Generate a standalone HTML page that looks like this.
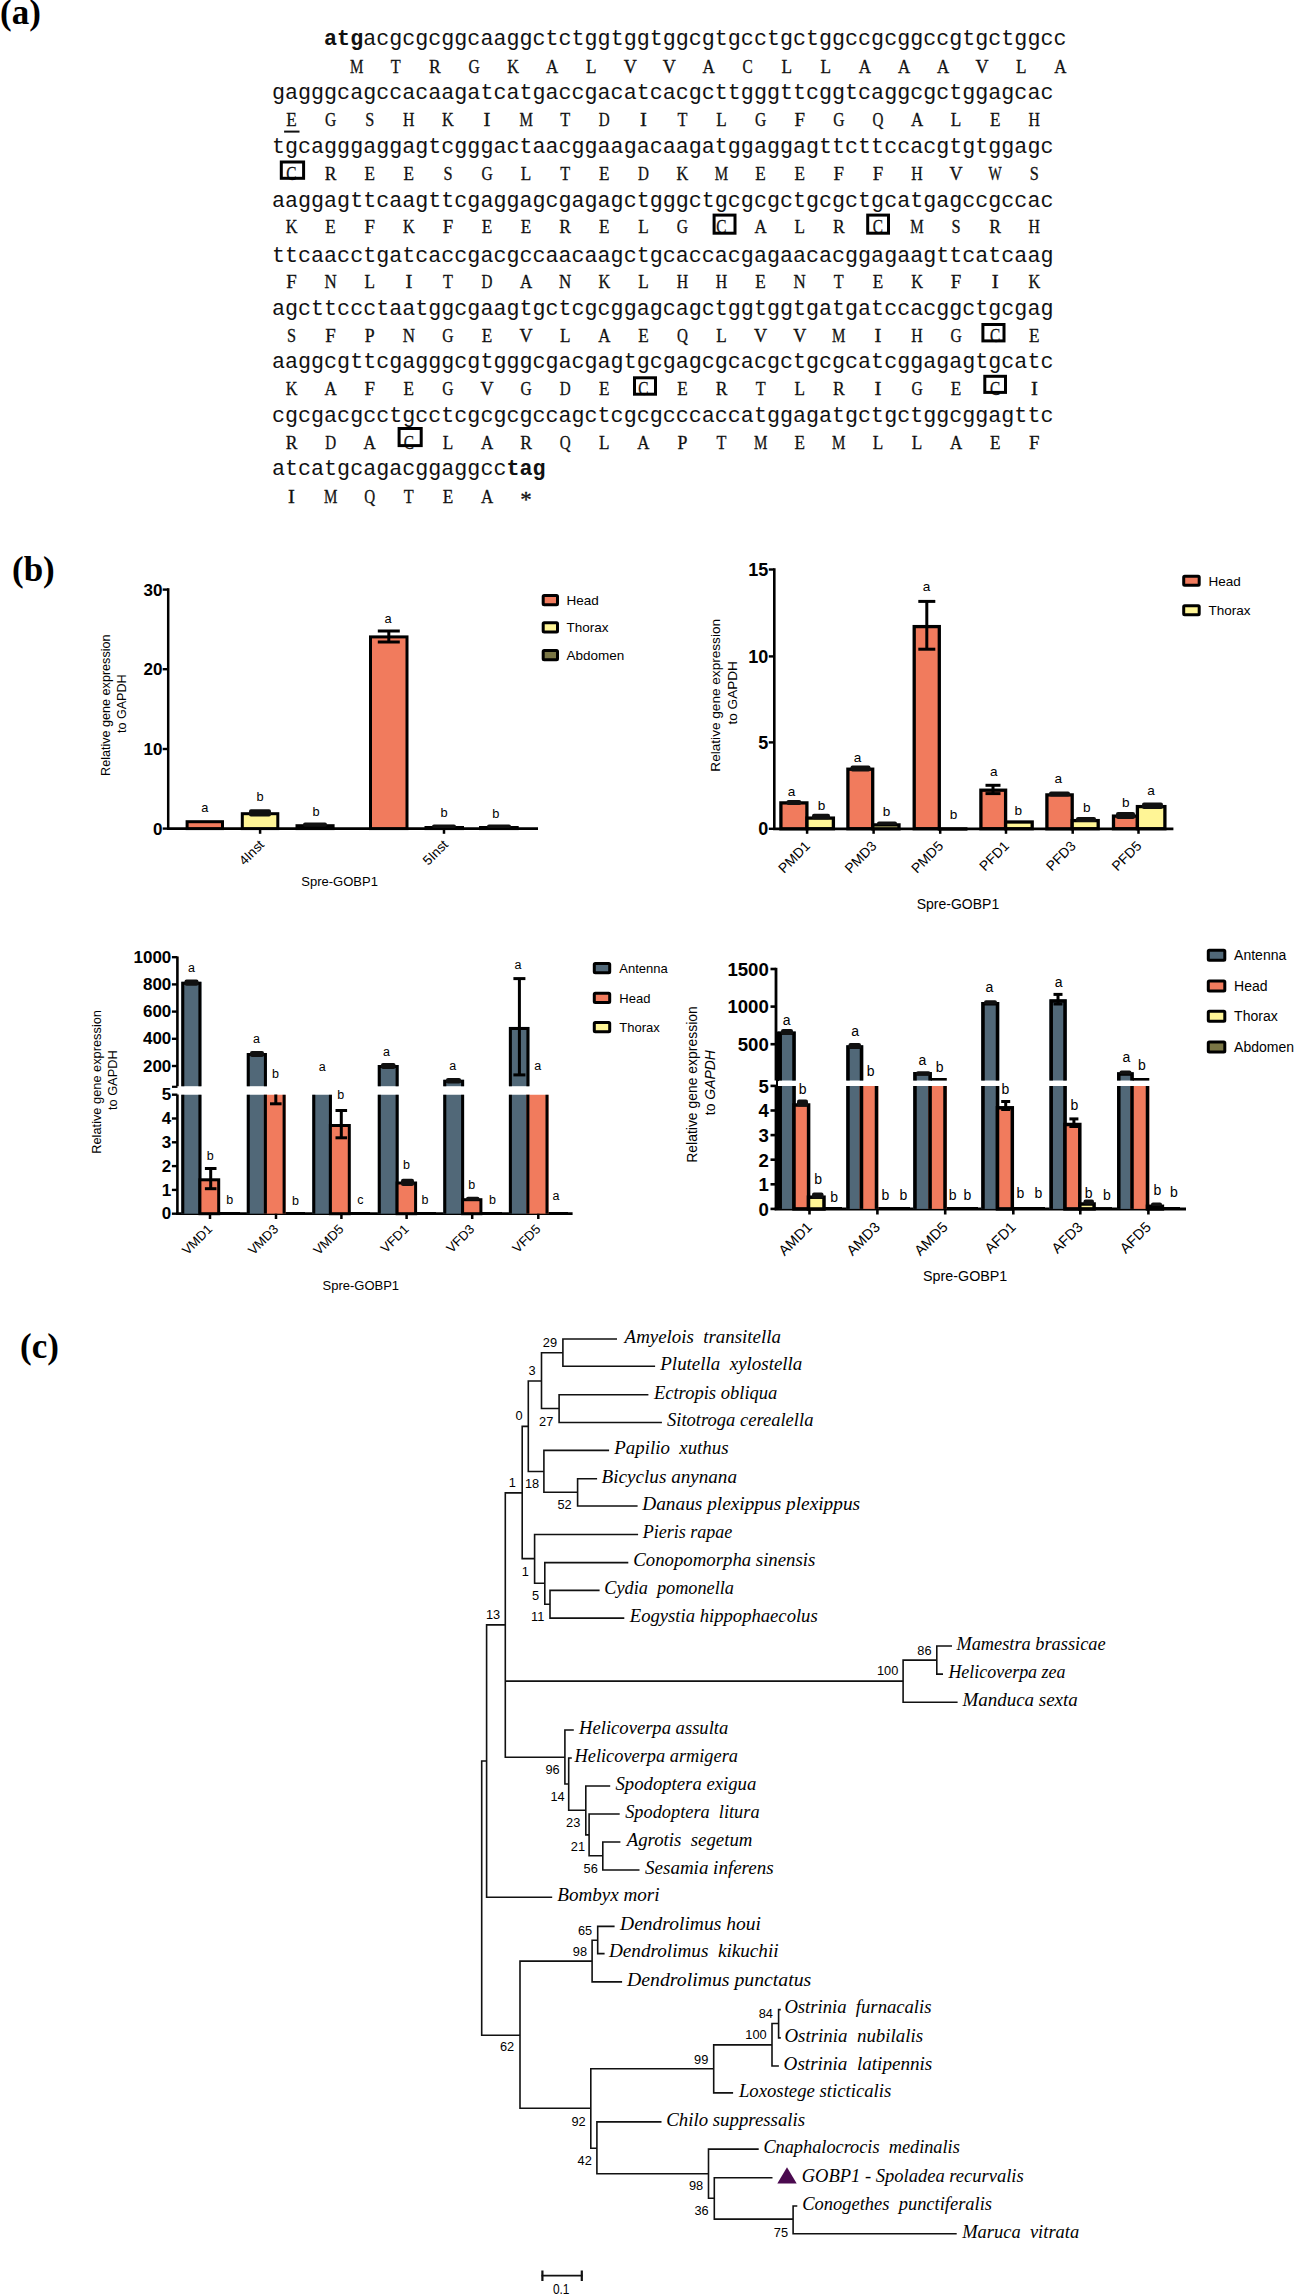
<!DOCTYPE html>
<html><head><meta charset="utf-8"><title>Figure</title>
<style>html,body{margin:0;padding:0;background:#fff;} svg{display:block;}</style>
</head><body>
<svg width="1297" height="2294" viewBox="0 0 1297 2294">
<rect width="1297" height="2294" fill="#fff"/>
<text x="0" y="24" font-family='"Liberation Serif", serif' font-weight="bold" font-size="35">(a)</text>
<text x="12" y="581" font-family='"Liberation Serif", serif' font-weight="bold" font-size="35">(b)</text>
<text x="20" y="1358" font-family='"Liberation Serif", serif' font-weight="bold" font-size="35">(c)</text>
<text x="324.1" y="44.7" font-family='"Liberation Mono", monospace' font-size="21.713" fill="#111"><tspan font-weight="bold">atg</tspan>acgcgcggcaaggctctggtggtggcgtgcctgctggccgcggccgtgctggcc</text>
<text x="272.0" y="98.8" font-family='"Liberation Mono", monospace' font-size="21.713" fill="#111">gagggcagccacaagatcatgaccgacatcacgcttgggttcggtcaggcgctggagcac</text>
<text x="272.0" y="152.5" font-family='"Liberation Mono", monospace' font-size="21.713" fill="#111">tgcagggaggagtcgggactaacggaagacaagatggaggagttcttccacgtgtggagc</text>
<text x="272.0" y="206.6" font-family='"Liberation Mono", monospace' font-size="21.713" fill="#111">aaggagttcaagttcgaggagcgagagctgggctgcgcgctgcgctgcatgagccgccac</text>
<text x="272.0" y="261.6" font-family='"Liberation Mono", monospace' font-size="21.713" fill="#111">ttcaacctgatcaccgacgccaacaagctgcaccacgagaacacggagaagttcatcaag</text>
<text x="272.0" y="314.6" font-family='"Liberation Mono", monospace' font-size="21.713" fill="#111">agcttccctaatggcgaagtgctcgcggagcagctggtggtgatgatccacggctgcgag</text>
<text x="272.0" y="368.2" font-family='"Liberation Mono", monospace' font-size="21.713" fill="#111">aaggcgttcgagggcgtgggcgacgagtgcgagcgcacgctgcgcatcggagagtgcatc</text>
<text x="272.0" y="421.7" font-family='"Liberation Mono", monospace' font-size="21.713" fill="#111">cgcgacgcctgcctcgcgcgccagctcgcgcccaccatggagatgctgctggcggagttc</text>
<text x="272.0" y="475.1" font-family='"Liberation Mono", monospace' font-size="21.713" fill="#111">atcatgcagacggaggcc<tspan font-weight="bold">tag</tspan></text>
<g font-family='"Liberation Serif", serif' font-size="19.6" text-anchor="middle" fill="#111" stroke="#111" stroke-width="0.3"><text transform="translate(356.7,72.8) scale(0.768,1)">M</text><text transform="translate(395.8,72.8) scale(0.829,1)">T</text><text transform="translate(434.9,72.8) scale(0.896,1)">R</text><text transform="translate(474.0,72.8) scale(0.793,1)">G</text><text transform="translate(513.1,72.8) scale(0.828,1)">K</text><text transform="translate(552.1,72.8) scale(0.862,1)">A</text><text transform="translate(591.2,72.8) scale(0.878,1)">L</text><text transform="translate(630.3,72.8) scale(0.924,1)">V</text><text transform="translate(669.4,72.8) scale(0.924,1)">V</text><text transform="translate(708.5,72.8) scale(0.862,1)">A</text><text transform="translate(747.6,72.8) scale(0.784,1)">C</text><text transform="translate(786.7,72.8) scale(0.878,1)">L</text><text transform="translate(825.8,72.8) scale(0.878,1)">L</text><text transform="translate(864.9,72.8) scale(0.862,1)">A</text><text transform="translate(904.0,72.8) scale(0.862,1)">A</text><text transform="translate(943.0,72.8) scale(0.862,1)">A</text><text transform="translate(982.1,72.8) scale(0.924,1)">V</text><text transform="translate(1021.2,72.8) scale(0.878,1)">L</text><text transform="translate(1060.3,72.8) scale(0.862,1)">A</text></g>
<g font-family='"Liberation Serif", serif' font-size="19.6" text-anchor="middle" fill="#111" stroke="#111" stroke-width="0.3"><text transform="translate(291.5,126.0) scale(0.878,1)">E</text><text transform="translate(330.6,126.0) scale(0.793,1)">G</text><text transform="translate(369.7,126.0) scale(0.830,1)">S</text><text transform="translate(408.8,126.0) scale(0.807,1)">H</text><text transform="translate(447.9,126.0) scale(0.828,1)">K</text><text transform="translate(487.0,126.0) scale(1.050,1)">I</text><text transform="translate(526.1,126.0) scale(0.768,1)">M</text><text transform="translate(565.2,126.0) scale(0.829,1)">T</text><text transform="translate(604.3,126.0) scale(0.772,1)">D</text><text transform="translate(643.4,126.0) scale(1.050,1)">I</text><text transform="translate(682.4,126.0) scale(0.829,1)">T</text><text transform="translate(721.5,126.0) scale(0.878,1)">L</text><text transform="translate(760.6,126.0) scale(0.793,1)">G</text><text transform="translate(799.7,126.0) scale(0.964,1)">F</text><text transform="translate(838.8,126.0) scale(0.793,1)">G</text><text transform="translate(877.9,126.0) scale(0.772,1)">Q</text><text transform="translate(917.0,126.0) scale(0.862,1)">A</text><text transform="translate(956.1,126.0) scale(0.878,1)">L</text><text transform="translate(995.2,126.0) scale(0.878,1)">E</text><text transform="translate(1034.3,126.0) scale(0.807,1)">H</text></g>
<g font-family='"Liberation Serif", serif' font-size="19.6" text-anchor="middle" fill="#111" stroke="#111" stroke-width="0.3"><text transform="translate(291.5,179.6) scale(0.784,1)">C</text><text transform="translate(330.6,179.6) scale(0.896,1)">R</text><text transform="translate(369.7,179.6) scale(0.878,1)">E</text><text transform="translate(408.8,179.6) scale(0.878,1)">E</text><text transform="translate(447.9,179.6) scale(0.830,1)">S</text><text transform="translate(487.0,179.6) scale(0.793,1)">G</text><text transform="translate(526.1,179.6) scale(0.878,1)">L</text><text transform="translate(565.2,179.6) scale(0.829,1)">T</text><text transform="translate(604.3,179.6) scale(0.878,1)">E</text><text transform="translate(643.4,179.6) scale(0.772,1)">D</text><text transform="translate(682.4,179.6) scale(0.828,1)">K</text><text transform="translate(721.5,179.6) scale(0.768,1)">M</text><text transform="translate(760.6,179.6) scale(0.878,1)">E</text><text transform="translate(799.7,179.6) scale(0.878,1)">E</text><text transform="translate(838.8,179.6) scale(0.964,1)">F</text><text transform="translate(877.9,179.6) scale(0.964,1)">F</text><text transform="translate(917.0,179.6) scale(0.807,1)">H</text><text transform="translate(956.1,179.6) scale(0.924,1)">V</text><text transform="translate(995.2,179.6) scale(0.713,1)">W</text><text transform="translate(1034.3,179.6) scale(0.830,1)">S</text></g>
<g font-family='"Liberation Serif", serif' font-size="19.6" text-anchor="middle" fill="#111" stroke="#111" stroke-width="0.3"><text transform="translate(291.5,233.4) scale(0.828,1)">K</text><text transform="translate(330.6,233.4) scale(0.878,1)">E</text><text transform="translate(369.7,233.4) scale(0.964,1)">F</text><text transform="translate(408.8,233.4) scale(0.828,1)">K</text><text transform="translate(447.9,233.4) scale(0.964,1)">F</text><text transform="translate(487.0,233.4) scale(0.878,1)">E</text><text transform="translate(526.1,233.4) scale(0.878,1)">E</text><text transform="translate(565.2,233.4) scale(0.896,1)">R</text><text transform="translate(604.3,233.4) scale(0.878,1)">E</text><text transform="translate(643.4,233.4) scale(0.878,1)">L</text><text transform="translate(682.4,233.4) scale(0.793,1)">G</text><text transform="translate(721.5,233.4) scale(0.784,1)">C</text><text transform="translate(760.6,233.4) scale(0.862,1)">A</text><text transform="translate(799.7,233.4) scale(0.878,1)">L</text><text transform="translate(838.8,233.4) scale(0.896,1)">R</text><text transform="translate(877.9,233.4) scale(0.784,1)">C</text><text transform="translate(917.0,233.4) scale(0.768,1)">M</text><text transform="translate(956.1,233.4) scale(0.830,1)">S</text><text transform="translate(995.2,233.4) scale(0.896,1)">R</text><text transform="translate(1034.3,233.4) scale(0.807,1)">H</text></g>
<g font-family='"Liberation Serif", serif' font-size="19.6" text-anchor="middle" fill="#111" stroke="#111" stroke-width="0.3"><text transform="translate(291.5,288.1) scale(0.964,1)">F</text><text transform="translate(330.6,288.1) scale(0.862,1)">N</text><text transform="translate(369.7,288.1) scale(0.878,1)">L</text><text transform="translate(408.8,288.1) scale(1.050,1)">I</text><text transform="translate(447.9,288.1) scale(0.829,1)">T</text><text transform="translate(487.0,288.1) scale(0.772,1)">D</text><text transform="translate(526.1,288.1) scale(0.862,1)">A</text><text transform="translate(565.2,288.1) scale(0.862,1)">N</text><text transform="translate(604.3,288.1) scale(0.828,1)">K</text><text transform="translate(643.4,288.1) scale(0.878,1)">L</text><text transform="translate(682.4,288.1) scale(0.807,1)">H</text><text transform="translate(721.5,288.1) scale(0.807,1)">H</text><text transform="translate(760.6,288.1) scale(0.878,1)">E</text><text transform="translate(799.7,288.1) scale(0.862,1)">N</text><text transform="translate(838.8,288.1) scale(0.829,1)">T</text><text transform="translate(877.9,288.1) scale(0.878,1)">E</text><text transform="translate(917.0,288.1) scale(0.828,1)">K</text><text transform="translate(956.1,288.1) scale(0.964,1)">F</text><text transform="translate(995.2,288.1) scale(1.050,1)">I</text><text transform="translate(1034.3,288.1) scale(0.828,1)">K</text></g>
<g font-family='"Liberation Serif", serif' font-size="19.6" text-anchor="middle" fill="#111" stroke="#111" stroke-width="0.3"><text transform="translate(291.5,341.5) scale(0.830,1)">S</text><text transform="translate(330.6,341.5) scale(0.964,1)">F</text><text transform="translate(369.7,341.5) scale(0.911,1)">P</text><text transform="translate(408.8,341.5) scale(0.862,1)">N</text><text transform="translate(447.9,341.5) scale(0.793,1)">G</text><text transform="translate(487.0,341.5) scale(0.878,1)">E</text><text transform="translate(526.1,341.5) scale(0.924,1)">V</text><text transform="translate(565.2,341.5) scale(0.878,1)">L</text><text transform="translate(604.3,341.5) scale(0.862,1)">A</text><text transform="translate(643.4,341.5) scale(0.878,1)">E</text><text transform="translate(682.4,341.5) scale(0.772,1)">Q</text><text transform="translate(721.5,341.5) scale(0.878,1)">L</text><text transform="translate(760.6,341.5) scale(0.924,1)">V</text><text transform="translate(799.7,341.5) scale(0.924,1)">V</text><text transform="translate(838.8,341.5) scale(0.768,1)">M</text><text transform="translate(877.9,341.5) scale(1.050,1)">I</text><text transform="translate(917.0,341.5) scale(0.807,1)">H</text><text transform="translate(956.1,341.5) scale(0.793,1)">G</text><text transform="translate(995.2,341.5) scale(0.784,1)">C</text><text transform="translate(1034.3,341.5) scale(0.878,1)">E</text></g>
<g font-family='"Liberation Serif", serif' font-size="19.6" text-anchor="middle" fill="#111" stroke="#111" stroke-width="0.3"><text transform="translate(291.5,395.2) scale(0.828,1)">K</text><text transform="translate(330.6,395.2) scale(0.862,1)">A</text><text transform="translate(369.7,395.2) scale(0.964,1)">F</text><text transform="translate(408.8,395.2) scale(0.878,1)">E</text><text transform="translate(447.9,395.2) scale(0.793,1)">G</text><text transform="translate(487.0,395.2) scale(0.924,1)">V</text><text transform="translate(526.1,395.2) scale(0.793,1)">G</text><text transform="translate(565.2,395.2) scale(0.772,1)">D</text><text transform="translate(604.3,395.2) scale(0.878,1)">E</text><text transform="translate(643.4,395.2) scale(0.784,1)">C</text><text transform="translate(682.4,395.2) scale(0.878,1)">E</text><text transform="translate(721.5,395.2) scale(0.896,1)">R</text><text transform="translate(760.6,395.2) scale(0.829,1)">T</text><text transform="translate(799.7,395.2) scale(0.878,1)">L</text><text transform="translate(838.8,395.2) scale(0.896,1)">R</text><text transform="translate(877.9,395.2) scale(1.050,1)">I</text><text transform="translate(917.0,395.2) scale(0.793,1)">G</text><text transform="translate(956.1,395.2) scale(0.878,1)">E</text><text transform="translate(995.2,395.2) scale(0.784,1)">C</text><text transform="translate(1034.3,395.2) scale(1.050,1)">I</text></g>
<g font-family='"Liberation Serif", serif' font-size="19.6" text-anchor="middle" fill="#111" stroke="#111" stroke-width="0.3"><text transform="translate(291.5,448.6) scale(0.896,1)">R</text><text transform="translate(330.6,448.6) scale(0.772,1)">D</text><text transform="translate(369.7,448.6) scale(0.862,1)">A</text><text transform="translate(408.8,448.6) scale(0.784,1)">C</text><text transform="translate(447.9,448.6) scale(0.878,1)">L</text><text transform="translate(487.0,448.6) scale(0.862,1)">A</text><text transform="translate(526.1,448.6) scale(0.896,1)">R</text><text transform="translate(565.2,448.6) scale(0.772,1)">Q</text><text transform="translate(604.3,448.6) scale(0.878,1)">L</text><text transform="translate(643.4,448.6) scale(0.862,1)">A</text><text transform="translate(682.4,448.6) scale(0.911,1)">P</text><text transform="translate(721.5,448.6) scale(0.829,1)">T</text><text transform="translate(760.6,448.6) scale(0.768,1)">M</text><text transform="translate(799.7,448.6) scale(0.878,1)">E</text><text transform="translate(838.8,448.6) scale(0.768,1)">M</text><text transform="translate(877.9,448.6) scale(0.878,1)">L</text><text transform="translate(917.0,448.6) scale(0.878,1)">L</text><text transform="translate(956.1,448.6) scale(0.862,1)">A</text><text transform="translate(995.2,448.6) scale(0.878,1)">E</text><text transform="translate(1034.3,448.6) scale(0.964,1)">F</text></g>
<g font-family='"Liberation Serif", serif' font-size="19.6" text-anchor="middle" fill="#111" stroke="#111" stroke-width="0.3"><text transform="translate(291.5,502.7) scale(1.050,1)">I</text><text transform="translate(330.6,502.7) scale(0.768,1)">M</text><text transform="translate(369.7,502.7) scale(0.772,1)">Q</text><text transform="translate(408.8,502.7) scale(0.829,1)">T</text><text transform="translate(447.9,502.7) scale(0.878,1)">E</text><text transform="translate(487.0,502.7) scale(0.862,1)">A</text><text transform="translate(526.1,507.3) scale(1.0,1)" font-size="23" stroke-width="0.3">*</text></g>
<rect x="284.1" y="130.6" width="15.4" height="2" fill="#111"/>
<rect x="281.3" y="162.0" width="22.3" height="16.3" fill="none" stroke="#000" stroke-width="3"/>
<rect x="714.1" y="215.1" width="20.9" height="18.1" fill="none" stroke="#000" stroke-width="3"/>
<rect x="867.7" y="215.1" width="20.8" height="18.1" fill="none" stroke="#000" stroke-width="3"/>
<rect x="982.9" y="324.5" width="21.1" height="16.4" fill="none" stroke="#000" stroke-width="3"/>
<rect x="634.5" y="377.8" width="21.0" height="16.4" fill="none" stroke="#000" stroke-width="3"/>
<rect x="984.8" y="376.3" width="20.7" height="16.1" fill="none" stroke="#000" stroke-width="3"/>
<rect x="399.1" y="428.5" width="22.1" height="17.1" fill="none" stroke="#000" stroke-width="3"/>
<line x1="168.2" y1="588.2" x2="168.2" y2="829.8" stroke="#000" stroke-width="2.5"/>
<line x1="167.0" y1="828.6" x2="538.0" y2="828.6" stroke="#000" stroke-width="2.8"/>
<line x1="162.7" y1="828.6" x2="168.2" y2="828.6" stroke="#000" stroke-width="2.4"/>
<text x="162.4" y="834.7" font-family='"Liberation Sans", sans-serif' font-size="17" text-anchor="end" font-weight="bold" >0</text>
<line x1="162.7" y1="749.0" x2="168.2" y2="749.0" stroke="#000" stroke-width="2.4"/>
<text x="162.4" y="755.1" font-family='"Liberation Sans", sans-serif' font-size="17" text-anchor="end" font-weight="bold" >10</text>
<line x1="162.7" y1="669.2" x2="168.2" y2="669.2" stroke="#000" stroke-width="2.4"/>
<text x="162.4" y="675.3" font-family='"Liberation Sans", sans-serif' font-size="17" text-anchor="end" font-weight="bold" >20</text>
<line x1="162.7" y1="589.6" x2="168.2" y2="589.6" stroke="#000" stroke-width="2.4"/>
<text x="162.4" y="595.7" font-family='"Liberation Sans", sans-serif' font-size="17" text-anchor="end" font-weight="bold" >30</text>
<rect x="187.1" y="821.7" width="35.4" height="6.9" fill="#F17B5D" stroke="#000" stroke-width="3"/>
<rect x="242.3" y="813.7" width="35.5" height="14.9" fill="#FFF596" stroke="#000" stroke-width="3"/>
<rect x="249.0" y="809.2" width="22.0" height="7.2" rx="2" fill="#111"/>
<rect x="297.0" y="825.7" width="36.1" height="2.9" fill="#7A7645" stroke="#000" stroke-width="3"/>
<rect x="303.0" y="822.6" width="24.0" height="4.2" rx="2" fill="#111"/>
<rect x="370.5" y="636.9" width="36.5" height="191.7" fill="#F17B5D" stroke="#000" stroke-width="3"/>
<line x1="388.8" y1="631.0" x2="388.8" y2="642.0" stroke="#000" stroke-width="3"/>
<line x1="377.8" y1="631.0" x2="399.8" y2="631.0" stroke="#000" stroke-width="3"/>
<line x1="377.8" y1="642.0" x2="399.8" y2="642.0" stroke="#000" stroke-width="3"/>
<rect x="426.0" y="827.5" width="36.5" height="1.1" fill="#FFF596" stroke="#000" stroke-width="3"/>
<rect x="432.0" y="824.6" width="24.0" height="3.4" rx="2" fill="#111"/>
<rect x="480.5" y="827.5" width="36.7" height="1.1" fill="#7A7645" stroke="#000" stroke-width="3"/>
<rect x="487.0" y="824.6" width="24.0" height="3.4" rx="2" fill="#111"/>
<line x1="260.1" y1="828.6" x2="260.1" y2="833.8" stroke="#000" stroke-width="2.5"/>
<line x1="444.0" y1="828.6" x2="444.0" y2="833.8" stroke="#000" stroke-width="2.5"/>
<text x="204.7" y="811.9" font-family='"Liberation Sans", sans-serif' font-size="12.8" text-anchor="middle" font-weight="normal" >a</text>
<text x="260.0" y="800.5" font-family='"Liberation Sans", sans-serif' font-size="12.8" text-anchor="middle" font-weight="normal" >b</text>
<text x="316.0" y="815.6" font-family='"Liberation Sans", sans-serif' font-size="12.8" text-anchor="middle" font-weight="normal" >b</text>
<text x="388.0" y="623.0" font-family='"Liberation Sans", sans-serif' font-size="12.8" text-anchor="middle" font-weight="normal" >a</text>
<text x="444.0" y="816.7" font-family='"Liberation Sans", sans-serif' font-size="12.8" text-anchor="middle" font-weight="normal" >b</text>
<text x="495.8" y="818.0" font-family='"Liberation Sans", sans-serif' font-size="12.8" text-anchor="middle" font-weight="normal" >b</text>
<text transform="translate(265.0,845.5) rotate(-45)" font-family='"Liberation Sans", sans-serif' font-size="13.4" text-anchor="end">4Inst</text>
<text transform="translate(448.9,845.5) rotate(-45)" font-family='"Liberation Sans", sans-serif' font-size="13.4" text-anchor="end">5Inst</text>
<text x="339.6" y="886.2" font-family='"Liberation Sans", sans-serif' font-size="13" text-anchor="middle" font-weight="normal" >Spre-GOBP1</text>
<text transform="translate(110.0,705.2) rotate(-90)" font-family='"Liberation Sans", sans-serif' font-size="12.6" text-anchor="middle">Relative gene expression</text>
<text transform="translate(126.3,703.7) rotate(-90)" font-family='"Liberation Sans", sans-serif' font-size="12.6" text-anchor="middle">to GAPDH</text>
<rect x="543.2" y="595.5" width="14.3" height="9.3" rx="1" fill="#F17B5D" stroke="#000" stroke-width="3"/>
<text x="566.4" y="605.0" font-family='"Liberation Sans", sans-serif' font-size="13.5" text-anchor="start" font-weight="normal" >Head</text>
<rect x="543.2" y="622.8" width="14.3" height="9.3" rx="1" fill="#FFF596" stroke="#000" stroke-width="3"/>
<text x="566.4" y="632.3" font-family='"Liberation Sans", sans-serif' font-size="13.5" text-anchor="start" font-weight="normal" >Thorax</text>
<rect x="543.2" y="650.5" width="14.3" height="9.3" rx="1" fill="#7A7645" stroke="#000" stroke-width="3"/>
<text x="566.4" y="660.0" font-family='"Liberation Sans", sans-serif' font-size="13.5" text-anchor="start" font-weight="normal" >Abdomen</text>
<line x1="774.3" y1="568.2" x2="774.3" y2="830.0" stroke="#000" stroke-width="2.6"/>
<line x1="773.1" y1="828.8" x2="1173.4" y2="828.8" stroke="#000" stroke-width="2.8"/>
<line x1="768.8" y1="828.8" x2="774.3" y2="828.8" stroke="#000" stroke-width="2.4"/>
<text x="768.2" y="835.1" font-family='"Liberation Sans", sans-serif' font-size="18" text-anchor="end" font-weight="bold" >0</text>
<line x1="768.8" y1="742.4" x2="774.3" y2="742.4" stroke="#000" stroke-width="2.4"/>
<text x="768.2" y="748.7" font-family='"Liberation Sans", sans-serif' font-size="18" text-anchor="end" font-weight="bold" >5</text>
<line x1="768.8" y1="656.4" x2="774.3" y2="656.4" stroke="#000" stroke-width="2.4"/>
<text x="768.2" y="662.7" font-family='"Liberation Sans", sans-serif' font-size="18" text-anchor="end" font-weight="bold" >10</text>
<line x1="768.8" y1="569.5" x2="774.3" y2="569.5" stroke="#000" stroke-width="2.4"/>
<text x="768.2" y="575.8" font-family='"Liberation Sans", sans-serif' font-size="18" text-anchor="end" font-weight="bold" >15</text>
<rect x="780.9" y="802.9" width="26.0" height="25.9" fill="#F17B5D" stroke="#000" stroke-width="3.3"/>
<rect x="807.0" y="818.1" width="26.4" height="10.6" fill="#FFF596" stroke="#000" stroke-width="3.3"/>
<rect x="786.5" y="800.0" width="14.8" height="5.0" rx="2" fill="#111"/>
<rect x="812.0" y="813.8" width="18.0" height="5.5" rx="2" fill="#111"/>
<rect x="847.9" y="769.2" width="24.8" height="59.5" fill="#F17B5D" stroke="#000" stroke-width="3.3"/>
<rect x="872.8" y="824.9" width="26.2" height="3.9" fill="#FFF596" stroke="#000" stroke-width="3.3"/>
<rect x="850.5" y="765.5" width="20.0" height="6.0" rx="2" fill="#111"/>
<rect x="877.0" y="821.5" width="20.0" height="3.5" rx="2" fill="#111"/>
<rect x="914.2" y="626.6" width="25.1" height="202.1" fill="#F17B5D" stroke="#000" stroke-width="3.3"/>
<rect x="939.4" y="828.9" width="26.4" height="0.1" fill="#FFF596" stroke="#000" stroke-width="3.3"/>
<line x1="926.8" y1="601.4" x2="926.8" y2="649.2" stroke="#000" stroke-width="3"/>
<line x1="918.3" y1="601.4" x2="935.3" y2="601.4" stroke="#000" stroke-width="3"/>
<line x1="918.3" y1="649.2" x2="935.3" y2="649.2" stroke="#000" stroke-width="3"/>
<rect x="980.9" y="790.2" width="24.7" height="38.5" fill="#F17B5D" stroke="#000" stroke-width="3.3"/>
<rect x="1005.6" y="822.0" width="26.6" height="6.7" fill="#FFF596" stroke="#000" stroke-width="3.3"/>
<line x1="993.0" y1="785.3" x2="993.0" y2="793.6" stroke="#000" stroke-width="3"/>
<line x1="985.5" y1="785.3" x2="1000.5" y2="785.3" stroke="#000" stroke-width="3"/>
<line x1="985.5" y1="793.6" x2="1000.5" y2="793.6" stroke="#000" stroke-width="3"/>
<rect x="1046.9" y="794.9" width="25.3" height="33.9" fill="#F17B5D" stroke="#000" stroke-width="3.3"/>
<rect x="1072.2" y="820.6" width="26.0" height="8.1" fill="#FFF596" stroke="#000" stroke-width="3.3"/>
<rect x="1049.0" y="791.5" width="21.0" height="5.0" rx="2" fill="#111"/>
<rect x="1076.0" y="817.0" width="20.0" height="5.0" rx="2" fill="#111"/>
<rect x="1113.5" y="816.1" width="23.9" height="12.6" fill="#F17B5D" stroke="#000" stroke-width="3.3"/>
<rect x="1137.4" y="806.6" width="27.5" height="22.1" fill="#FFF596" stroke="#000" stroke-width="3.3"/>
<rect x="1116.0" y="812.0" width="19.0" height="7.0" rx="2" fill="#111"/>
<rect x="1142.0" y="802.5" width="21.0" height="6.5" rx="2" fill="#111"/>
<line x1="807.1" y1="828.8" x2="807.1" y2="833.8" stroke="#000" stroke-width="2.5"/>
<line x1="873.6" y1="828.8" x2="873.6" y2="833.8" stroke="#000" stroke-width="2.5"/>
<line x1="940.2" y1="828.8" x2="940.2" y2="833.8" stroke="#000" stroke-width="2.5"/>
<line x1="1006.0" y1="828.8" x2="1006.0" y2="833.8" stroke="#000" stroke-width="2.5"/>
<line x1="1072.7" y1="828.8" x2="1072.7" y2="833.8" stroke="#000" stroke-width="2.5"/>
<line x1="1138.5" y1="828.8" x2="1138.5" y2="833.8" stroke="#000" stroke-width="2.5"/>
<text x="791.6" y="795.7" font-family='"Liberation Sans", sans-serif' font-size="13.6" text-anchor="middle" font-weight="normal" >a</text>
<text x="821.5" y="810.0" font-family='"Liberation Sans", sans-serif' font-size="13.6" text-anchor="middle" font-weight="normal" >b</text>
<text x="857.5" y="762.0" font-family='"Liberation Sans", sans-serif' font-size="13.6" text-anchor="middle" font-weight="normal" >a</text>
<text x="886.5" y="816.0" font-family='"Liberation Sans", sans-serif' font-size="13.6" text-anchor="middle" font-weight="normal" >b</text>
<text x="926.6" y="591.0" font-family='"Liberation Sans", sans-serif' font-size="13.6" text-anchor="middle" font-weight="normal" >a</text>
<text x="953.5" y="819.0" font-family='"Liberation Sans", sans-serif' font-size="13.6" text-anchor="middle" font-weight="normal" >b</text>
<text x="993.7" y="775.7" font-family='"Liberation Sans", sans-serif' font-size="13.6" text-anchor="middle" font-weight="normal" >a</text>
<text x="1018.4" y="814.8" font-family='"Liberation Sans", sans-serif' font-size="13.6" text-anchor="middle" font-weight="normal" >b</text>
<text x="1058.4" y="782.6" font-family='"Liberation Sans", sans-serif' font-size="13.6" text-anchor="middle" font-weight="normal" >a</text>
<text x="1086.7" y="812.0" font-family='"Liberation Sans", sans-serif' font-size="13.6" text-anchor="middle" font-weight="normal" >b</text>
<text x="1125.8" y="806.5" font-family='"Liberation Sans", sans-serif' font-size="13.6" text-anchor="middle" font-weight="normal" >b</text>
<text x="1151.0" y="795.0" font-family='"Liberation Sans", sans-serif' font-size="13.6" text-anchor="middle" font-weight="normal" >a</text>
<text transform="translate(811.0,846.8) rotate(-45)" font-family='"Liberation Sans", sans-serif' font-size="13.8" text-anchor="end">PMD1</text>
<text transform="translate(877.5,846.8) rotate(-45)" font-family='"Liberation Sans", sans-serif' font-size="13.8" text-anchor="end">PMD3</text>
<text transform="translate(944.1,846.8) rotate(-45)" font-family='"Liberation Sans", sans-serif' font-size="13.8" text-anchor="end">PMD5</text>
<text transform="translate(1009.9,846.8) rotate(-45)" font-family='"Liberation Sans", sans-serif' font-size="13.8" text-anchor="end">PFD1</text>
<text transform="translate(1076.6,846.8) rotate(-45)" font-family='"Liberation Sans", sans-serif' font-size="13.8" text-anchor="end">PFD3</text>
<text transform="translate(1142.4,846.8) rotate(-45)" font-family='"Liberation Sans", sans-serif' font-size="13.8" text-anchor="end">PFD5</text>
<text x="958.0" y="908.6" font-family='"Liberation Sans", sans-serif' font-size="14" text-anchor="middle" font-weight="normal" >Spre-GOBP1</text>
<text transform="translate(719.9,695.3) rotate(-90)" font-family='"Liberation Sans", sans-serif' font-size="13.6" text-anchor="middle">Relative gene expression</text>
<text transform="translate(736.8,692.8) rotate(-90)" font-family='"Liberation Sans", sans-serif' font-size="13.6" text-anchor="middle">to GAPDH</text>
<rect x="1183.7" y="576.3" width="15.5" height="9.0" rx="1" fill="#F17B5D" stroke="#000" stroke-width="3"/>
<text x="1208.4" y="585.7" font-family='"Liberation Sans", sans-serif' font-size="13.5" text-anchor="start" font-weight="normal" >Head</text>
<rect x="1183.7" y="605.7" width="15.5" height="9.0" rx="1" fill="#FFF596" stroke="#000" stroke-width="3"/>
<text x="1208.4" y="615.1" font-family='"Liberation Sans", sans-serif' font-size="13.5" text-anchor="start" font-weight="normal" >Thorax</text>
<line x1="177.4" y1="956.5" x2="177.4" y2="1086.2" stroke="#000" stroke-width="2.6"/>
<line x1="177.4" y1="1094.5" x2="177.4" y2="1214.9" stroke="#000" stroke-width="2.6"/>
<line x1="176.1" y1="1213.7" x2="572.6" y2="1213.7" stroke="#000" stroke-width="2.8"/>
<line x1="171.9" y1="1066.0" x2="177.4" y2="1066.0" stroke="#000" stroke-width="2.4"/>
<text x="171.3" y="1071.6" font-family='"Liberation Sans", sans-serif' font-size="17" text-anchor="end" font-weight="bold" >200</text>
<line x1="171.9" y1="1038.8" x2="177.4" y2="1038.8" stroke="#000" stroke-width="2.4"/>
<text x="171.3" y="1044.4" font-family='"Liberation Sans", sans-serif' font-size="17" text-anchor="end" font-weight="bold" >400</text>
<line x1="171.9" y1="1011.6" x2="177.4" y2="1011.6" stroke="#000" stroke-width="2.4"/>
<text x="171.3" y="1017.2" font-family='"Liberation Sans", sans-serif' font-size="17" text-anchor="end" font-weight="bold" >600</text>
<line x1="171.9" y1="984.4" x2="177.4" y2="984.4" stroke="#000" stroke-width="2.4"/>
<text x="171.3" y="990.0" font-family='"Liberation Sans", sans-serif' font-size="17" text-anchor="end" font-weight="bold" >800</text>
<line x1="171.9" y1="957.2" x2="177.4" y2="957.2" stroke="#000" stroke-width="2.4"/>
<text x="171.3" y="962.8" font-family='"Liberation Sans", sans-serif' font-size="17" text-anchor="end" font-weight="bold" >1000</text>
<line x1="171.9" y1="1213.7" x2="177.4" y2="1213.7" stroke="#000" stroke-width="2.4"/>
<text x="171.3" y="1219.3" font-family='"Liberation Sans", sans-serif' font-size="17" text-anchor="end" font-weight="bold" >0</text>
<line x1="171.9" y1="1189.9" x2="177.4" y2="1189.9" stroke="#000" stroke-width="2.4"/>
<text x="171.3" y="1195.5" font-family='"Liberation Sans", sans-serif' font-size="17" text-anchor="end" font-weight="bold" >1</text>
<line x1="171.9" y1="1166.1" x2="177.4" y2="1166.1" stroke="#000" stroke-width="2.4"/>
<text x="171.3" y="1171.7" font-family='"Liberation Sans", sans-serif' font-size="17" text-anchor="end" font-weight="bold" >2</text>
<line x1="171.9" y1="1142.3" x2="177.4" y2="1142.3" stroke="#000" stroke-width="2.4"/>
<text x="171.3" y="1147.9" font-family='"Liberation Sans", sans-serif' font-size="17" text-anchor="end" font-weight="bold" >3</text>
<line x1="171.9" y1="1118.5" x2="177.4" y2="1118.5" stroke="#000" stroke-width="2.4"/>
<text x="171.3" y="1124.1" font-family='"Liberation Sans", sans-serif' font-size="17" text-anchor="end" font-weight="bold" >4</text>
<line x1="171.9" y1="1094.7" x2="177.4" y2="1094.7" stroke="#000" stroke-width="2.4"/>
<text x="171.3" y="1100.3" font-family='"Liberation Sans", sans-serif' font-size="17" text-anchor="end" font-weight="bold" >5</text>
<rect x="172" y="1085.7" width="5.5" height="2.2" fill="#000"/>
<line x1="218.7" y1="1213.1" x2="240.0" y2="1213.1" stroke="#000" stroke-width="2.2"/>
<rect x="181.3" y="981.8" width="20.1" height="104.4" fill="#516878"/>
<path d="M182.8 1086.2V983.3H199.9V1086.2" fill="none" stroke="#000" stroke-width="3.0" stroke-linejoin="miter"/>
<rect x="181.3" y="1094.5" width="20.1" height="119.2" fill="#516878"/>
<line x1="182.8" y1="1094.5" x2="182.8" y2="1213.7" stroke="#000" stroke-width="3.0"/>
<line x1="199.9" y1="1094.5" x2="199.9" y2="1213.7" stroke="#000" stroke-width="3.0"/>
<rect x="199.9" y="1179.8" width="18.8" height="33.9" fill="#F17B5D" stroke="#000" stroke-width="3.0"/>
<line x1="284.1" y1="1213.1" x2="305.0" y2="1213.1" stroke="#000" stroke-width="2.2"/>
<rect x="246.8" y="1053.1" width="20.1" height="33.1" fill="#516878"/>
<path d="M248.3 1086.2V1054.6H265.4V1086.2" fill="none" stroke="#000" stroke-width="3.0" stroke-linejoin="miter"/>
<rect x="246.8" y="1094.5" width="20.1" height="119.2" fill="#516878"/>
<line x1="248.3" y1="1094.5" x2="248.3" y2="1213.7" stroke="#000" stroke-width="3.0"/>
<line x1="265.4" y1="1094.5" x2="265.4" y2="1213.7" stroke="#000" stroke-width="3.0"/>
<rect x="263.9" y="1094.5" width="21.7" height="119.2" fill="#F17B5D"/>
<line x1="265.4" y1="1094.5" x2="265.4" y2="1213.7" stroke="#000" stroke-width="3.0"/>
<line x1="284.1" y1="1094.5" x2="284.1" y2="1213.7" stroke="#000" stroke-width="3.0"/>
<line x1="349.3" y1="1213.1" x2="370.0" y2="1213.1" stroke="#000" stroke-width="2.2"/>
<rect x="312.3" y="1094.5" width="19.6" height="119.2" fill="#516878"/>
<line x1="313.8" y1="1094.5" x2="313.8" y2="1213.7" stroke="#000" stroke-width="3.0"/>
<line x1="330.4" y1="1094.5" x2="330.4" y2="1213.7" stroke="#000" stroke-width="3.0"/>
<rect x="330.4" y="1125.5" width="18.9" height="88.2" fill="#F17B5D" stroke="#000" stroke-width="3.0"/>
<line x1="415.6" y1="1213.1" x2="436.0" y2="1213.1" stroke="#000" stroke-width="2.2"/>
<rect x="377.8" y="1065.0" width="20.8" height="21.2" fill="#516878"/>
<path d="M379.3 1086.2V1066.5H397.1V1086.2" fill="none" stroke="#000" stroke-width="3.0" stroke-linejoin="miter"/>
<rect x="377.8" y="1094.5" width="20.8" height="119.2" fill="#516878"/>
<line x1="379.3" y1="1094.5" x2="379.3" y2="1213.7" stroke="#000" stroke-width="3.0"/>
<line x1="397.1" y1="1094.5" x2="397.1" y2="1213.7" stroke="#000" stroke-width="3.0"/>
<rect x="397.1" y="1183.0" width="18.5" height="30.7" fill="#F17B5D" stroke="#000" stroke-width="3.0"/>
<line x1="480.9" y1="1213.1" x2="502.0" y2="1213.1" stroke="#000" stroke-width="2.2"/>
<rect x="443.3" y="1079.8" width="20.8" height="6.4" fill="#516878"/>
<path d="M444.8 1086.2V1081.3H462.6V1086.2" fill="none" stroke="#000" stroke-width="3.0" stroke-linejoin="miter"/>
<rect x="443.3" y="1094.5" width="20.8" height="119.2" fill="#516878"/>
<line x1="444.8" y1="1094.5" x2="444.8" y2="1213.7" stroke="#000" stroke-width="3.0"/>
<line x1="462.6" y1="1094.5" x2="462.6" y2="1213.7" stroke="#000" stroke-width="3.0"/>
<rect x="462.6" y="1199.7" width="18.3" height="14.0" fill="#F17B5D" stroke="#000" stroke-width="3.0"/>
<line x1="547.0" y1="1213.1" x2="568.0" y2="1213.1" stroke="#000" stroke-width="2.2"/>
<rect x="508.9" y="1026.9" width="20.5" height="59.3" fill="#516878"/>
<path d="M510.4 1086.2V1028.4H527.9V1086.2" fill="none" stroke="#000" stroke-width="3.0" stroke-linejoin="miter"/>
<rect x="508.9" y="1094.5" width="20.5" height="119.2" fill="#516878"/>
<line x1="510.4" y1="1094.5" x2="510.4" y2="1213.7" stroke="#000" stroke-width="3.0"/>
<line x1="527.9" y1="1094.5" x2="527.9" y2="1213.7" stroke="#000" stroke-width="3.0"/>
<rect x="526.4" y="1094.5" width="22.1" height="119.2" fill="#F17B5D"/>
<line x1="527.9" y1="1094.5" x2="527.9" y2="1213.7" stroke="#000" stroke-width="3.0"/>
<line x1="547.0" y1="1094.5" x2="547.0" y2="1213.7" stroke="#000" stroke-width="3.0"/>
<rect x="179.4" y="1087.2" width="400" height="7.3" fill="#fff"/>
<rect x="184.5" y="979.5" width="14.0" height="6.3" rx="2" fill="#111"/>
<line x1="210.7" y1="1168.5" x2="210.7" y2="1188.7" stroke="#000" stroke-width="3"/>
<line x1="204.9" y1="1168.5" x2="216.5" y2="1168.5" stroke="#000" stroke-width="3"/>
<line x1="204.9" y1="1188.7" x2="216.5" y2="1188.7" stroke="#000" stroke-width="3"/>
<rect x="250.0" y="1051.0" width="14.0" height="6.0" rx="2" fill="#111"/>
<line x1="275.8" y1="1094.5" x2="275.8" y2="1103.8" stroke="#000" stroke-width="3"/>
<line x1="270.0" y1="1103.8" x2="281.6" y2="1103.8" stroke="#000" stroke-width="3"/>
<line x1="341.3" y1="1110.5" x2="341.3" y2="1137.8" stroke="#000" stroke-width="3"/>
<line x1="335.5" y1="1110.5" x2="347.1" y2="1110.5" stroke="#000" stroke-width="3"/>
<line x1="335.5" y1="1137.8" x2="347.1" y2="1137.8" stroke="#000" stroke-width="3"/>
<rect x="381.0" y="1063.0" width="14.5" height="6.0" rx="2" fill="#111"/>
<rect x="401.0" y="1178.8" width="13.0" height="7.2" rx="2" fill="#111"/>
<rect x="446.0" y="1078.0" width="15.0" height="5.5" rx="2" fill="#111"/>
<rect x="466.0" y="1196.8" width="13.5" height="3.7" rx="2" fill="#111"/>
<line x1="519.4" y1="978.6" x2="519.4" y2="1074.9" stroke="#000" stroke-width="3"/>
<line x1="513.4" y1="978.6" x2="525.4" y2="978.6" stroke="#000" stroke-width="3"/>
<line x1="513.4" y1="1074.9" x2="525.4" y2="1074.9" stroke="#000" stroke-width="3"/>
<line x1="210.0" y1="1213.7" x2="210.0" y2="1219.0" stroke="#000" stroke-width="2.5"/>
<line x1="276.0" y1="1213.7" x2="276.0" y2="1219.0" stroke="#000" stroke-width="2.5"/>
<line x1="341.4" y1="1213.7" x2="341.4" y2="1219.0" stroke="#000" stroke-width="2.5"/>
<line x1="406.6" y1="1213.7" x2="406.6" y2="1219.0" stroke="#000" stroke-width="2.5"/>
<line x1="472.2" y1="1213.7" x2="472.2" y2="1219.0" stroke="#000" stroke-width="2.5"/>
<line x1="538.3" y1="1213.7" x2="538.3" y2="1219.0" stroke="#000" stroke-width="2.5"/>
<text x="191.5" y="972.4" font-family='"Liberation Sans", sans-serif' font-size="12.5" text-anchor="middle" font-weight="normal" >a</text>
<text x="210.2" y="1159.8" font-family='"Liberation Sans", sans-serif' font-size="12.5" text-anchor="middle" font-weight="normal" >b</text>
<text x="229.7" y="1204.2" font-family='"Liberation Sans", sans-serif' font-size="12.5" text-anchor="middle" font-weight="normal" >b</text>
<text x="256.5" y="1043.4" font-family='"Liberation Sans", sans-serif' font-size="12.5" text-anchor="middle" font-weight="normal" >a</text>
<text x="275.5" y="1078.0" font-family='"Liberation Sans", sans-serif' font-size="12.5" text-anchor="middle" font-weight="normal" >b</text>
<text x="295.6" y="1204.9" font-family='"Liberation Sans", sans-serif' font-size="12.5" text-anchor="middle" font-weight="normal" >b</text>
<text x="322.2" y="1071.4" font-family='"Liberation Sans", sans-serif' font-size="12.5" text-anchor="middle" font-weight="normal" >a</text>
<text x="340.7" y="1099.0" font-family='"Liberation Sans", sans-serif' font-size="12.5" text-anchor="middle" font-weight="normal" >b</text>
<text x="360.4" y="1203.7" font-family='"Liberation Sans", sans-serif' font-size="12.5" text-anchor="middle" font-weight="normal" >c</text>
<text x="386.4" y="1055.5" font-family='"Liberation Sans", sans-serif' font-size="12.5" text-anchor="middle" font-weight="normal" >a</text>
<text x="406.6" y="1168.8" font-family='"Liberation Sans", sans-serif' font-size="12.5" text-anchor="middle" font-weight="normal" >b</text>
<text x="425.0" y="1204.4" font-family='"Liberation Sans", sans-serif' font-size="12.5" text-anchor="middle" font-weight="normal" >b</text>
<text x="452.8" y="1069.5" font-family='"Liberation Sans", sans-serif' font-size="12.5" text-anchor="middle" font-weight="normal" >a</text>
<text x="471.7" y="1188.8" font-family='"Liberation Sans", sans-serif' font-size="12.5" text-anchor="middle" font-weight="normal" >b</text>
<text x="492.5" y="1204.4" font-family='"Liberation Sans", sans-serif' font-size="12.5" text-anchor="middle" font-weight="normal" >b</text>
<text x="518.0" y="969.1" font-family='"Liberation Sans", sans-serif' font-size="12.5" text-anchor="middle" font-weight="normal" >a</text>
<text x="537.8" y="1070.3" font-family='"Liberation Sans", sans-serif' font-size="12.5" text-anchor="middle" font-weight="normal" >a</text>
<text x="555.9" y="1200.4" font-family='"Liberation Sans", sans-serif' font-size="12.5" text-anchor="middle" font-weight="normal" >a</text>
<text transform="translate(213.0,1230.0) rotate(-45)" font-family='"Liberation Sans", sans-serif' font-size="13" text-anchor="end">VMD1</text>
<text transform="translate(279.0,1230.0) rotate(-45)" font-family='"Liberation Sans", sans-serif' font-size="13" text-anchor="end">VMD3</text>
<text transform="translate(344.4,1230.0) rotate(-45)" font-family='"Liberation Sans", sans-serif' font-size="13" text-anchor="end">VMD5</text>
<text transform="translate(409.6,1230.0) rotate(-45)" font-family='"Liberation Sans", sans-serif' font-size="13" text-anchor="end">VFD1</text>
<text transform="translate(475.2,1230.0) rotate(-45)" font-family='"Liberation Sans", sans-serif' font-size="13" text-anchor="end">VFD3</text>
<text transform="translate(541.3,1230.0) rotate(-45)" font-family='"Liberation Sans", sans-serif' font-size="13" text-anchor="end">VFD5</text>
<text x="360.8" y="1290.2" font-family='"Liberation Sans", sans-serif' font-size="13" text-anchor="middle" font-weight="normal" >Spre-GOBP1</text>
<text transform="translate(100.9,1081.9) rotate(-90)" font-family='"Liberation Sans", sans-serif' font-size="12.8" text-anchor="middle">Relative gene expression</text>
<text transform="translate(117.2,1080.2) rotate(-90)" font-family='"Liberation Sans", sans-serif' font-size="12.8" text-anchor="middle">to GAPDH</text>
<rect x="594.3" y="963.6" width="15.4" height="9.2" rx="1" fill="#516878" stroke="#000" stroke-width="3"/>
<text x="619.3" y="972.9" font-family='"Liberation Sans", sans-serif' font-size="13" text-anchor="start" font-weight="normal" >Antenna</text>
<rect x="594.3" y="993.3" width="15.4" height="9.2" rx="1" fill="#F17B5D" stroke="#000" stroke-width="3"/>
<text x="619.3" y="1002.6" font-family='"Liberation Sans", sans-serif' font-size="13" text-anchor="start" font-weight="normal" >Head</text>
<rect x="594.3" y="1022.5" width="15.4" height="9.2" rx="1" fill="#FFF596" stroke="#000" stroke-width="3"/>
<text x="619.3" y="1031.8" font-family='"Liberation Sans", sans-serif' font-size="13" text-anchor="start" font-weight="normal" >Thorax</text>
<line x1="776.0" y1="967.8" x2="776.0" y2="1080.5" stroke="#000" stroke-width="2.8"/>
<line x1="776.0" y1="1086.0" x2="776.0" y2="1210.1" stroke="#000" stroke-width="2.8"/>
<line x1="774.6" y1="1208.9" x2="1186.0" y2="1208.9" stroke="#000" stroke-width="3"/>
<line x1="770.5" y1="1044.2" x2="776.0" y2="1044.2" stroke="#000" stroke-width="2.6"/>
<text x="768.8" y="1051.0" font-family='"Liberation Sans", sans-serif' font-size="18.6" text-anchor="end" font-weight="bold" >500</text>
<line x1="770.5" y1="1006.6" x2="776.0" y2="1006.6" stroke="#000" stroke-width="2.6"/>
<text x="768.8" y="1013.4" font-family='"Liberation Sans", sans-serif' font-size="18.6" text-anchor="end" font-weight="bold" >1000</text>
<line x1="770.5" y1="969.0" x2="776.0" y2="969.0" stroke="#000" stroke-width="2.6"/>
<text x="768.8" y="975.8" font-family='"Liberation Sans", sans-serif' font-size="18.6" text-anchor="end" font-weight="bold" >1500</text>
<line x1="770.5" y1="1208.9" x2="776.0" y2="1208.9" stroke="#000" stroke-width="2.6"/>
<text x="768.8" y="1215.7" font-family='"Liberation Sans", sans-serif' font-size="18.6" text-anchor="end" font-weight="bold" >0</text>
<line x1="770.5" y1="1184.3" x2="776.0" y2="1184.3" stroke="#000" stroke-width="2.6"/>
<text x="768.8" y="1191.1" font-family='"Liberation Sans", sans-serif' font-size="18.6" text-anchor="end" font-weight="bold" >1</text>
<line x1="770.5" y1="1159.7" x2="776.0" y2="1159.7" stroke="#000" stroke-width="2.6"/>
<text x="768.8" y="1166.5" font-family='"Liberation Sans", sans-serif' font-size="18.6" text-anchor="end" font-weight="bold" >2</text>
<line x1="770.5" y1="1135.1" x2="776.0" y2="1135.1" stroke="#000" stroke-width="2.6"/>
<text x="768.8" y="1141.9" font-family='"Liberation Sans", sans-serif' font-size="18.6" text-anchor="end" font-weight="bold" >3</text>
<line x1="770.5" y1="1110.5" x2="776.0" y2="1110.5" stroke="#000" stroke-width="2.6"/>
<text x="768.8" y="1117.3" font-family='"Liberation Sans", sans-serif' font-size="18.6" text-anchor="end" font-weight="bold" >4</text>
<line x1="770.5" y1="1085.9" x2="776.0" y2="1085.9" stroke="#000" stroke-width="2.6"/>
<text x="768.8" y="1092.7" font-family='"Liberation Sans", sans-serif' font-size="18.6" text-anchor="end" font-weight="bold" >5</text>
<line x1="808.8" y1="1208.3" x2="842.0" y2="1208.3" stroke="#000" stroke-width="2.4"/>
<rect x="778.5" y="1031.5" width="17.2" height="49.0" fill="#516878"/>
<path d="M780.2 1080.5V1033.2H794.0V1080.5" fill="none" stroke="#000" stroke-width="3.5" stroke-linejoin="miter"/>
<rect x="778.5" y="1086.0" width="17.2" height="122.9" fill="#516878"/>
<line x1="780.2" y1="1086.0" x2="780.2" y2="1208.9" stroke="#000" stroke-width="3.5"/>
<line x1="794.0" y1="1086.0" x2="794.0" y2="1208.9" stroke="#000" stroke-width="3.5"/>
<rect x="794.0" y="1105.0" width="14.6" height="103.9" fill="#F17B5D" stroke="#000" stroke-width="3.5"/>
<rect x="808.5" y="1197.2" width="15.5" height="11.8" fill="#FFF596" stroke="#000" stroke-width="3.5"/>
<line x1="876.8" y1="1208.3" x2="910.0" y2="1208.3" stroke="#000" stroke-width="2.4"/>
<rect x="846.3" y="1045.3" width="16.9" height="35.2" fill="#516878"/>
<path d="M848.0 1080.5V1047.0H861.5V1080.5" fill="none" stroke="#000" stroke-width="3.5" stroke-linejoin="miter"/>
<rect x="846.3" y="1086.0" width="16.9" height="122.9" fill="#516878"/>
<line x1="848.0" y1="1086.0" x2="848.0" y2="1208.9" stroke="#000" stroke-width="3.5"/>
<line x1="861.5" y1="1086.0" x2="861.5" y2="1208.9" stroke="#000" stroke-width="3.5"/>
<rect x="859.7" y="1086.0" width="18.6" height="122.9" fill="#F17B5D"/>
<line x1="861.5" y1="1086.0" x2="861.5" y2="1208.9" stroke="#000" stroke-width="3.5"/>
<line x1="876.5" y1="1086.0" x2="876.5" y2="1208.9" stroke="#000" stroke-width="3.5"/>
<line x1="945.3" y1="1208.3" x2="978.0" y2="1208.3" stroke="#000" stroke-width="2.4"/>
<rect x="913.2" y="1072.1" width="18.7" height="8.4" fill="#516878"/>
<path d="M915.0 1080.5V1073.8H930.1V1080.5" fill="none" stroke="#000" stroke-width="3.5" stroke-linejoin="miter"/>
<rect x="913.2" y="1086.0" width="18.7" height="122.9" fill="#516878"/>
<line x1="915.0" y1="1086.0" x2="915.0" y2="1208.9" stroke="#000" stroke-width="3.5"/>
<line x1="930.1" y1="1086.0" x2="930.1" y2="1208.9" stroke="#000" stroke-width="3.5"/>
<rect x="928.4" y="1086.0" width="18.4" height="122.9" fill="#F17B5D"/>
<line x1="930.1" y1="1086.0" x2="930.1" y2="1208.9" stroke="#000" stroke-width="3.5"/>
<line x1="945.0" y1="1086.0" x2="945.0" y2="1208.9" stroke="#000" stroke-width="3.5"/>
<line x1="930.9" y1="1079.3" x2="946.8" y2="1079.3" stroke="#000" stroke-width="2.6"/>
<line x1="1012.5" y1="1208.3" x2="1045.0" y2="1208.3" stroke="#000" stroke-width="2.4"/>
<rect x="981.2" y="1002.0" width="18.0" height="78.5" fill="#516878"/>
<path d="M983.0 1080.5V1003.8H997.5V1080.5" fill="none" stroke="#000" stroke-width="3.5" stroke-linejoin="miter"/>
<rect x="981.2" y="1086.0" width="18.0" height="122.9" fill="#516878"/>
<line x1="983.0" y1="1086.0" x2="983.0" y2="1208.9" stroke="#000" stroke-width="3.5"/>
<line x1="997.5" y1="1086.0" x2="997.5" y2="1208.9" stroke="#000" stroke-width="3.5"/>
<rect x="997.5" y="1107.8" width="14.8" height="101.1" fill="#F17B5D" stroke="#000" stroke-width="3.5"/>
<line x1="1080.0" y1="1208.3" x2="1112.0" y2="1208.3" stroke="#000" stroke-width="2.4"/>
<rect x="1049.4" y="999.4" width="17.3" height="81.1" fill="#516878"/>
<path d="M1051.2 1080.5V1001.1H1065.0V1080.5" fill="none" stroke="#000" stroke-width="3.5" stroke-linejoin="miter"/>
<rect x="1049.4" y="1086.0" width="17.3" height="122.9" fill="#516878"/>
<line x1="1051.2" y1="1086.0" x2="1051.2" y2="1208.9" stroke="#000" stroke-width="3.5"/>
<line x1="1065.0" y1="1086.0" x2="1065.0" y2="1208.9" stroke="#000" stroke-width="3.5"/>
<rect x="1065.0" y="1124.5" width="14.8" height="84.4" fill="#F17B5D" stroke="#000" stroke-width="3.5"/>
<rect x="1079.8" y="1204.0" width="14.3" height="4.9" fill="#FFF596" stroke="#000" stroke-width="3.5"/>
<line x1="1147.8" y1="1208.3" x2="1180.0" y2="1208.3" stroke="#000" stroke-width="2.4"/>
<rect x="1117.0" y="1072.2" width="16.7" height="8.3" fill="#516878"/>
<path d="M1118.8 1080.5V1074.0H1132.0V1080.5" fill="none" stroke="#000" stroke-width="3.5" stroke-linejoin="miter"/>
<rect x="1117.0" y="1086.0" width="16.7" height="122.9" fill="#516878"/>
<line x1="1118.8" y1="1086.0" x2="1118.8" y2="1208.9" stroke="#000" stroke-width="3.5"/>
<line x1="1132.0" y1="1086.0" x2="1132.0" y2="1208.9" stroke="#000" stroke-width="3.5"/>
<rect x="1130.2" y="1086.0" width="19.1" height="122.9" fill="#F17B5D"/>
<line x1="1132.0" y1="1086.0" x2="1132.0" y2="1208.9" stroke="#000" stroke-width="3.5"/>
<line x1="1147.5" y1="1086.0" x2="1147.5" y2="1208.9" stroke="#000" stroke-width="3.5"/>
<line x1="1132.7" y1="1079.3" x2="1149.3" y2="1079.3" stroke="#000" stroke-width="2.6"/>
<rect x="1147.5" y="1206.3" width="14.9" height="2.6" fill="#FFF596" stroke="#000" stroke-width="3.5"/>
<rect x="776.0" y="1031.5" width="3" height="177.4" fill="#000"/>
<rect x="778.0" y="1081.1" width="405" height="4.9" fill="#fff"/>
<rect x="781.0" y="1029.0" width="12.0" height="6.0" rx="2" fill="#111"/>
<rect x="797.0" y="1099.5" width="11.0" height="7.0" rx="2" fill="#111"/>
<rect x="812.0" y="1192.5" width="11.5" height="6.0" rx="2" fill="#111"/>
<rect x="848.5" y="1043.0" width="12.5" height="6.0" rx="2" fill="#111"/>
<rect x="916.0" y="1071.3" width="14.5" height="4.4" rx="2" fill="#111"/>
<rect x="984.0" y="1000.3" width="13.0" height="4.2" rx="2" fill="#111"/>
<line x1="1005.7" y1="1101.5" x2="1005.7" y2="1109.5" stroke="#000" stroke-width="3"/>
<line x1="1001.2" y1="1101.5" x2="1010.2" y2="1101.5" stroke="#000" stroke-width="3"/>
<line x1="1001.2" y1="1109.5" x2="1010.2" y2="1109.5" stroke="#000" stroke-width="3"/>
<line x1="1058.0" y1="994.4" x2="1058.0" y2="1004.0" stroke="#000" stroke-width="3"/>
<line x1="1053.5" y1="994.4" x2="1062.5" y2="994.4" stroke="#000" stroke-width="3"/>
<line x1="1053.5" y1="1004.0" x2="1062.5" y2="1004.0" stroke="#000" stroke-width="3"/>
<line x1="1073.9" y1="1118.9" x2="1073.9" y2="1126.5" stroke="#000" stroke-width="3"/>
<line x1="1069.4" y1="1118.9" x2="1078.4" y2="1118.9" stroke="#000" stroke-width="3"/>
<line x1="1069.4" y1="1126.5" x2="1078.4" y2="1126.5" stroke="#000" stroke-width="3"/>
<rect x="1083.5" y="1199.5" width="10.5" height="5.0" rx="2" fill="#111"/>
<rect x="1119.5" y="1070.5" width="12.0" height="4.0" rx="2" fill="#111"/>
<rect x="1151.0" y="1202.5" width="11.0" height="3.5" rx="2" fill="#111"/>
<line x1="809.5" y1="1208.9" x2="809.5" y2="1214.5" stroke="#000" stroke-width="2.6"/>
<line x1="877.4" y1="1208.9" x2="877.4" y2="1214.5" stroke="#000" stroke-width="2.6"/>
<line x1="945.2" y1="1208.9" x2="945.2" y2="1214.5" stroke="#000" stroke-width="2.6"/>
<line x1="1013.3" y1="1208.9" x2="1013.3" y2="1214.5" stroke="#000" stroke-width="2.6"/>
<line x1="1080.3" y1="1208.9" x2="1080.3" y2="1214.5" stroke="#000" stroke-width="2.6"/>
<line x1="1148.4" y1="1208.9" x2="1148.4" y2="1214.5" stroke="#000" stroke-width="2.6"/>
<text x="786.6" y="1025.1" font-family='"Liberation Sans", sans-serif' font-size="14" text-anchor="middle" font-weight="normal" >a</text>
<text x="802.6" y="1094.2" font-family='"Liberation Sans", sans-serif' font-size="14" text-anchor="middle" font-weight="normal" >b</text>
<text x="818.2" y="1184.3" font-family='"Liberation Sans", sans-serif' font-size="14" text-anchor="middle" font-weight="normal" >b</text>
<text x="834.2" y="1202.3" font-family='"Liberation Sans", sans-serif' font-size="14" text-anchor="middle" font-weight="normal" >b</text>
<text x="855.2" y="1036.2" font-family='"Liberation Sans", sans-serif' font-size="14" text-anchor="middle" font-weight="normal" >a</text>
<text x="870.7" y="1076.4" font-family='"Liberation Sans", sans-serif' font-size="14" text-anchor="middle" font-weight="normal" >b</text>
<text x="885.5" y="1200.3" font-family='"Liberation Sans", sans-serif' font-size="14" text-anchor="middle" font-weight="normal" >b</text>
<text x="903.3" y="1200.3" font-family='"Liberation Sans", sans-serif' font-size="14" text-anchor="middle" font-weight="normal" >b</text>
<text x="922.5" y="1065.2" font-family='"Liberation Sans", sans-serif' font-size="14" text-anchor="middle" font-weight="normal" >a</text>
<text x="939.7" y="1071.7" font-family='"Liberation Sans", sans-serif' font-size="14" text-anchor="middle" font-weight="normal" >b</text>
<text x="952.6" y="1200.3" font-family='"Liberation Sans", sans-serif' font-size="14" text-anchor="middle" font-weight="normal" >b</text>
<text x="967.4" y="1200.3" font-family='"Liberation Sans", sans-serif' font-size="14" text-anchor="middle" font-weight="normal" >b</text>
<text x="989.4" y="991.6" font-family='"Liberation Sans", sans-serif' font-size="14" text-anchor="middle" font-weight="normal" >a</text>
<text x="1005.5" y="1093.7" font-family='"Liberation Sans", sans-serif' font-size="14" text-anchor="middle" font-weight="normal" >b</text>
<text x="1020.5" y="1197.6" font-family='"Liberation Sans", sans-serif' font-size="14" text-anchor="middle" font-weight="normal" >b</text>
<text x="1038.5" y="1197.6" font-family='"Liberation Sans", sans-serif' font-size="14" text-anchor="middle" font-weight="normal" >b</text>
<text x="1058.7" y="986.6" font-family='"Liberation Sans", sans-serif' font-size="14" text-anchor="middle" font-weight="normal" >a</text>
<text x="1074.3" y="1110.0" font-family='"Liberation Sans", sans-serif' font-size="14" text-anchor="middle" font-weight="normal" >b</text>
<text x="1088.6" y="1197.6" font-family='"Liberation Sans", sans-serif' font-size="14" text-anchor="middle" font-weight="normal" >b</text>
<text x="1106.8" y="1199.7" font-family='"Liberation Sans", sans-serif' font-size="14" text-anchor="middle" font-weight="normal" >b</text>
<text x="1126.3" y="1062.0" font-family='"Liberation Sans", sans-serif' font-size="14" text-anchor="middle" font-weight="normal" >a</text>
<text x="1141.9" y="1070.3" font-family='"Liberation Sans", sans-serif' font-size="14" text-anchor="middle" font-weight="normal" >b</text>
<text x="1157.5" y="1195.0" font-family='"Liberation Sans", sans-serif' font-size="14" text-anchor="middle" font-weight="normal" >b</text>
<text x="1173.8" y="1197.1" font-family='"Liberation Sans", sans-serif' font-size="14" text-anchor="middle" font-weight="normal" >b</text>
<text transform="translate(813.0,1228.0) rotate(-45)" font-family='"Liberation Sans", sans-serif' font-size="14.5" text-anchor="end">AMD1</text>
<text transform="translate(880.9,1228.0) rotate(-45)" font-family='"Liberation Sans", sans-serif' font-size="14.5" text-anchor="end">AMD3</text>
<text transform="translate(948.7,1228.0) rotate(-45)" font-family='"Liberation Sans", sans-serif' font-size="14.5" text-anchor="end">AMD5</text>
<text transform="translate(1016.8,1228.0) rotate(-45)" font-family='"Liberation Sans", sans-serif' font-size="14.5" text-anchor="end">AFD1</text>
<text transform="translate(1083.8,1228.0) rotate(-45)" font-family='"Liberation Sans", sans-serif' font-size="14.5" text-anchor="end">AFD3</text>
<text transform="translate(1151.9,1228.0) rotate(-45)" font-family='"Liberation Sans", sans-serif' font-size="14.5" text-anchor="end">AFD5</text>
<text x="965.2" y="1280.7" font-family='"Liberation Sans", sans-serif' font-size="14.3" text-anchor="middle" font-weight="normal" >Spre-GOBP1</text>
<text transform="translate(696.8,1084.5) rotate(-90)" font-family='"Liberation Sans", sans-serif' font-size="13.95" text-anchor="middle">Relative gene expression</text>
<text transform="translate(714.5,1082.6) rotate(-90)" font-family='"Liberation Sans", sans-serif' font-size="13.95" text-anchor="middle">to <tspan font-style="italic">GAPDH</tspan></text>
<rect x="1208.3" y="950.2" width="16.5" height="10.0" rx="1" fill="#516878" stroke="#000" stroke-width="3"/>
<text x="1234.1" y="960.2" font-family='"Liberation Sans", sans-serif' font-size="14" text-anchor="start" font-weight="normal" >Antenna</text>
<rect x="1208.3" y="980.9" width="16.5" height="10.0" rx="1" fill="#F17B5D" stroke="#000" stroke-width="3"/>
<text x="1234.1" y="990.9" font-family='"Liberation Sans", sans-serif' font-size="14" text-anchor="start" font-weight="normal" >Head</text>
<rect x="1208.3" y="1011.3" width="16.5" height="10.0" rx="1" fill="#FFF596" stroke="#000" stroke-width="3"/>
<text x="1234.1" y="1021.3" font-family='"Liberation Sans", sans-serif' font-size="14" text-anchor="start" font-weight="normal" >Thorax</text>
<rect x="1208.3" y="1041.9" width="16.5" height="10.0" rx="1" fill="#7A7645" stroke="#000" stroke-width="3"/>
<text x="1234.1" y="1051.9" font-family='"Liberation Sans", sans-serif' font-size="14" text-anchor="start" font-weight="normal" >Abdomen</text>
<path d="M562.9 1339.0H616.2 M562.9 1366.3H654.3 M562.9 1339.0V1366.3 M541.5 1352.8H562.9 M559.1 1394.7H647.6 M559.1 1422.5H661.1 M559.1 1394.7V1422.5 M541.5 1408.5H559.1 M541.5 1352.8V1408.5 M528.3 1381.0H541.5 M543.9 1450.4H608.3 M577.6 1478.8H596.3 M577.6 1506.0H636.8 M577.6 1478.8V1506.0 M543.9 1492.3H577.6 M543.9 1450.4V1492.3 M528.3 1471.5H543.9 M528.3 1381.0V1471.5 M522.2 1426.4H528.3 M534.6 1534.5H637.3 M544.8 1562.6H627.5 M550.0 1590.4H598.8 M550.0 1618.1H623.5 M550.0 1590.4V1618.1 M544.8 1604.2H550.0 M544.8 1562.6V1604.2 M534.6 1583.3H544.8 M534.6 1534.5V1583.3 M522.2 1558.6H534.6 M522.2 1426.4V1558.6 M505.3 1492.9H522.2 M505.3 1681.1H903.1 M936.8 1646.0H951.2 M936.8 1674.1H942.2 M936.8 1646.0V1674.1 M903.1 1660.1H936.8 M903.1 1702.2H956.8 M903.1 1660.1V1702.2 M564.9 1730.0H573.0 M568.7 1758.0H571.0 M585.8 1786.0H609.4 M589.1 1814.0H618.9 M602.8 1842.0H619.6 M602.8 1870.0H638.7 M602.8 1842.0V1870.0 M589.1 1855.7H602.8 M589.1 1814.0V1855.7 M585.8 1834.9H589.1 M585.8 1786.0V1834.9 M568.7 1810.2H585.8 M568.7 1758.0V1810.2 M564.9 1784.0H568.7 M564.9 1730.0V1784.0 M505.3 1757.3H564.9 M505.3 1492.9V1757.3 M486.6 1624.9H505.3 M486.6 1897.2H551.4 M486.6 1624.9V1897.2 M481.7 1761.0H486.6 M597.7 1926.4H613.8 M597.7 1953.6H603.8 M597.7 1926.4V1953.6 M592.1 1940.2H597.7 M592.1 1981.9H621.3 M592.1 1940.2V1981.9 M520.0 1961.1H592.1 M778.6 2009.6H780.0 M778.6 2037.9H780.0 M778.6 2009.6V2037.9 M772.0 2023.5H778.6 M772.0 2066.0H778.1 M772.0 2023.5V2066.0 M713.7 2044.9H772.0 M713.7 2092.9H732.3 M713.7 2044.9V2092.9 M590.8 2068.7H713.7 M596.9 2121.9H660.7 M708.5 2149.1H757.9 M714.3 2177.7H771.7 M793.1 2206.0H796.5 M793.1 2233.7H955.9 M793.1 2206.0V2233.7 M714.3 2219.1H793.1 M714.3 2177.7V2219.1 M708.5 2198.2H714.3 M708.5 2149.1V2198.2 M596.9 2173.8H708.5 M596.9 2121.9V2173.8 M590.8 2148.3H596.9 M590.8 2068.7V2148.3 M520.0 2108.2H590.8 M520.0 1961.1V2108.2 M481.7 2035.2H520.0 M481.7 1761.0V2035.2" fill="none" stroke="#111" stroke-width="1.6" stroke-linecap="square"/>
<path d="M541.5 2275.6H582.5" stroke="#111" stroke-width="1.8"/><path d="M542.4 2270.4V2281M581.8 2270.4V2281" stroke="#111" stroke-width="2.2"/>
<polygon points="777.3,2183.5 796.7,2183.5 787,2167.2" fill="#4B0A4F"/>
<text x="624.6" y="1342.8" font-family='"Liberation Serif", serif' font-style="italic" font-size="19.2" textLength="156.3" lengthAdjust="spacingAndGlyphs" xml:space="preserve">Amyelois  transitella</text>
<text x="660.3" y="1370.1" font-family='"Liberation Serif", serif' font-style="italic" font-size="19.2" textLength="142.0" lengthAdjust="spacingAndGlyphs" xml:space="preserve">Plutella  xylostella</text>
<text x="653.9" y="1398.5" font-family='"Liberation Serif", serif' font-style="italic" font-size="19.2" textLength="123.5" lengthAdjust="spacingAndGlyphs" xml:space="preserve">Ectropis obliqua</text>
<text x="667.0" y="1426.3" font-family='"Liberation Serif", serif' font-style="italic" font-size="19.2" textLength="146.4" lengthAdjust="spacingAndGlyphs" xml:space="preserve">Sitotroga cerealella</text>
<text x="614.3" y="1454.2" font-family='"Liberation Serif", serif' font-style="italic" font-size="19.2" textLength="114.2" lengthAdjust="spacingAndGlyphs" xml:space="preserve">Papilio  xuthus</text>
<text x="601.6" y="1482.6" font-family='"Liberation Serif", serif' font-style="italic" font-size="19.2" textLength="135.4" lengthAdjust="spacingAndGlyphs" xml:space="preserve">Bicyclus anynana</text>
<text x="642.2" y="1509.8" font-family='"Liberation Serif", serif' font-style="italic" font-size="19.2" textLength="217.9" lengthAdjust="spacingAndGlyphs" xml:space="preserve">Danaus plexippus plexippus</text>
<text x="642.7" y="1538.3" font-family='"Liberation Serif", serif' font-style="italic" font-size="19.2" textLength="89.6" lengthAdjust="spacingAndGlyphs" xml:space="preserve">Pieris rapae</text>
<text x="633.3" y="1566.4" font-family='"Liberation Serif", serif' font-style="italic" font-size="19.2" textLength="182.0" lengthAdjust="spacingAndGlyphs" xml:space="preserve">Conopomorpha sinensis</text>
<text x="604.3" y="1594.2" font-family='"Liberation Serif", serif' font-style="italic" font-size="19.2" textLength="129.6" lengthAdjust="spacingAndGlyphs" xml:space="preserve">Cydia  pomonella</text>
<text x="629.8" y="1621.9" font-family='"Liberation Serif", serif' font-style="italic" font-size="19.2" textLength="187.9" lengthAdjust="spacingAndGlyphs" xml:space="preserve">Eogystia hippophaecolus</text>
<text x="956.4" y="1649.8" font-family='"Liberation Serif", serif' font-style="italic" font-size="19.2" textLength="149.2" lengthAdjust="spacingAndGlyphs" xml:space="preserve">Mamestra brassicae</text>
<text x="948.4" y="1677.9" font-family='"Liberation Serif", serif' font-style="italic" font-size="19.2" textLength="117.1" lengthAdjust="spacingAndGlyphs" xml:space="preserve">Helicoverpa zea</text>
<text x="962.4" y="1706.0" font-family='"Liberation Serif", serif' font-style="italic" font-size="19.2" textLength="115.4" lengthAdjust="spacingAndGlyphs" xml:space="preserve">Manduca sexta</text>
<text x="579.1" y="1733.8" font-family='"Liberation Serif", serif' font-style="italic" font-size="19.2" textLength="149.2" lengthAdjust="spacingAndGlyphs" xml:space="preserve">Helicoverpa assulta</text>
<text x="574.5" y="1761.8" font-family='"Liberation Serif", serif' font-style="italic" font-size="19.2" textLength="163.5" lengthAdjust="spacingAndGlyphs" xml:space="preserve">Helicoverpa armigera</text>
<text x="615.5" y="1789.8" font-family='"Liberation Serif", serif' font-style="italic" font-size="19.2" textLength="140.8" lengthAdjust="spacingAndGlyphs" xml:space="preserve">Spodoptera exigua</text>
<text x="625.2" y="1817.8" font-family='"Liberation Serif", serif' font-style="italic" font-size="19.2" textLength="134.4" lengthAdjust="spacingAndGlyphs" xml:space="preserve">Spodoptera  litura</text>
<text x="626.7" y="1845.8" font-family='"Liberation Serif", serif' font-style="italic" font-size="19.2" textLength="125.7" lengthAdjust="spacingAndGlyphs" xml:space="preserve">Agrotis  segetum</text>
<text x="645.1" y="1873.8" font-family='"Liberation Serif", serif' font-style="italic" font-size="19.2" textLength="128.5" lengthAdjust="spacingAndGlyphs" xml:space="preserve">Sesamia inferens</text>
<text x="557.3" y="1901.0" font-family='"Liberation Serif", serif' font-style="italic" font-size="19.2" textLength="102.3" lengthAdjust="spacingAndGlyphs" xml:space="preserve">Bombyx mori</text>
<text x="620.1" y="1930.2" font-family='"Liberation Serif", serif' font-style="italic" font-size="19.2" textLength="140.8" lengthAdjust="spacingAndGlyphs" xml:space="preserve">Dendrolimus houi</text>
<text x="609.0" y="1957.4" font-family='"Liberation Serif", serif' font-style="italic" font-size="19.2" textLength="169.6" lengthAdjust="spacingAndGlyphs" xml:space="preserve">Dendrolimus  kikuchii</text>
<text x="627.0" y="1985.7" font-family='"Liberation Serif", serif' font-style="italic" font-size="19.2" textLength="184.3" lengthAdjust="spacingAndGlyphs" xml:space="preserve">Dendrolimus punctatus</text>
<text x="784.4" y="2013.4" font-family='"Liberation Serif", serif' font-style="italic" font-size="19.2" textLength="147.1" lengthAdjust="spacingAndGlyphs" xml:space="preserve">Ostrinia  furnacalis</text>
<text x="784.4" y="2041.7" font-family='"Liberation Serif", serif' font-style="italic" font-size="19.2" textLength="138.8" lengthAdjust="spacingAndGlyphs" xml:space="preserve">Ostrinia  nubilalis</text>
<text x="783.6" y="2069.8" font-family='"Liberation Serif", serif' font-style="italic" font-size="19.2" textLength="148.7" lengthAdjust="spacingAndGlyphs" xml:space="preserve">Ostrinia  latipennis</text>
<text x="738.9" y="2096.7" font-family='"Liberation Serif", serif' font-style="italic" font-size="19.2" textLength="152.4" lengthAdjust="spacingAndGlyphs" xml:space="preserve">Loxostege sticticalis</text>
<text x="666.3" y="2125.7" font-family='"Liberation Serif", serif' font-style="italic" font-size="19.2" textLength="138.8" lengthAdjust="spacingAndGlyphs" xml:space="preserve">Chilo suppressalis</text>
<text x="763.4" y="2152.9" font-family='"Liberation Serif", serif' font-style="italic" font-size="19.2" textLength="196.4" lengthAdjust="spacingAndGlyphs" xml:space="preserve">Cnaphalocrocis  medinalis</text>
<text x="801.7" y="2181.5" font-family='"Liberation Serif", serif' font-style="italic" font-size="19.2" textLength="222.0" lengthAdjust="spacingAndGlyphs" xml:space="preserve">GOBP1 - Spoladea recurvalis</text>
<text x="802.3" y="2209.8" font-family='"Liberation Serif", serif' font-style="italic" font-size="19.2" textLength="189.7" lengthAdjust="spacingAndGlyphs" xml:space="preserve">Conogethes  punctiferalis</text>
<text x="962.2" y="2237.5" font-family='"Liberation Serif", serif' font-style="italic" font-size="19.2" textLength="117.0" lengthAdjust="spacingAndGlyphs" xml:space="preserve">Maruca  vitrata</text>
<text x="549.9" y="1347.0" font-family='"Liberation Sans", sans-serif' font-size="12.8" text-anchor="middle" font-weight="normal" >29</text>
<text x="532.0" y="1375.0" font-family='"Liberation Sans", sans-serif' font-size="12.8" text-anchor="middle" font-weight="normal" >3</text>
<text x="546.2" y="1425.5" font-family='"Liberation Sans", sans-serif' font-size="12.8" text-anchor="middle" font-weight="normal" >27</text>
<text x="519.0" y="1419.6" font-family='"Liberation Sans", sans-serif' font-size="12.8" text-anchor="middle" font-weight="normal" >0</text>
<text x="512.2" y="1487.0" font-family='"Liberation Sans", sans-serif' font-size="12.8" text-anchor="middle" font-weight="normal" >1</text>
<text x="532.0" y="1487.6" font-family='"Liberation Sans", sans-serif' font-size="12.8" text-anchor="middle" font-weight="normal" >18</text>
<text x="564.6" y="1509.0" font-family='"Liberation Sans", sans-serif' font-size="12.8" text-anchor="middle" font-weight="normal" >52</text>
<text x="525.4" y="1575.6" font-family='"Liberation Sans", sans-serif' font-size="12.8" text-anchor="middle" font-weight="normal" >1</text>
<text x="535.6" y="1600.2" font-family='"Liberation Sans", sans-serif' font-size="12.8" text-anchor="middle" font-weight="normal" >5</text>
<text x="537.7" y="1621.0" font-family='"Liberation Sans", sans-serif' font-size="12.8" text-anchor="middle" font-weight="normal" >11</text>
<text x="493.1" y="1618.7" font-family='"Liberation Sans", sans-serif' font-size="12.8" text-anchor="middle" font-weight="normal" >13</text>
<text x="887.6" y="1675.1" font-family='"Liberation Sans", sans-serif' font-size="12.8" text-anchor="middle" font-weight="normal" >100</text>
<text x="924.4" y="1654.5" font-family='"Liberation Sans", sans-serif' font-size="12.8" text-anchor="middle" font-weight="normal" >86</text>
<text x="552.6" y="1773.8" font-family='"Liberation Sans", sans-serif' font-size="12.8" text-anchor="middle" font-weight="normal" >96</text>
<text x="557.5" y="1800.5" font-family='"Liberation Sans", sans-serif' font-size="12.8" text-anchor="middle" font-weight="normal" >14</text>
<text x="573.2" y="1827.2" font-family='"Liberation Sans", sans-serif' font-size="12.8" text-anchor="middle" font-weight="normal" >23</text>
<text x="577.9" y="1851.4" font-family='"Liberation Sans", sans-serif' font-size="12.8" text-anchor="middle" font-weight="normal" >21</text>
<text x="590.7" y="1872.5" font-family='"Liberation Sans", sans-serif' font-size="12.8" text-anchor="middle" font-weight="normal" >56</text>
<text x="585.1" y="1934.7" font-family='"Liberation Sans", sans-serif' font-size="12.8" text-anchor="middle" font-weight="normal" >65</text>
<text x="579.9" y="1955.5" font-family='"Liberation Sans", sans-serif' font-size="12.8" text-anchor="middle" font-weight="normal" >98</text>
<text x="507.0" y="2051.3" font-family='"Liberation Sans", sans-serif' font-size="12.8" text-anchor="middle" font-weight="normal" >62</text>
<text x="765.8" y="2018.0" font-family='"Liberation Sans", sans-serif' font-size="12.8" text-anchor="middle" font-weight="normal" >84</text>
<text x="756.0" y="2039.3" font-family='"Liberation Sans", sans-serif' font-size="12.8" text-anchor="middle" font-weight="normal" >100</text>
<text x="701.2" y="2063.8" font-family='"Liberation Sans", sans-serif' font-size="12.8" text-anchor="middle" font-weight="normal" >99</text>
<text x="578.6" y="2125.5" font-family='"Liberation Sans", sans-serif' font-size="12.8" text-anchor="middle" font-weight="normal" >92</text>
<text x="584.7" y="2165.0" font-family='"Liberation Sans", sans-serif' font-size="12.8" text-anchor="middle" font-weight="normal" >42</text>
<text x="696.1" y="2190.0" font-family='"Liberation Sans", sans-serif' font-size="12.8" text-anchor="middle" font-weight="normal" >98</text>
<text x="701.6" y="2214.9" font-family='"Liberation Sans", sans-serif' font-size="12.8" text-anchor="middle" font-weight="normal" >36</text>
<text x="780.9" y="2236.5" font-family='"Liberation Sans", sans-serif' font-size="12.8" text-anchor="middle" font-weight="normal" >75</text>
<text x="552.9" y="2294" font-family='"Liberation Sans", sans-serif' font-size="14" textLength="16.6" lengthAdjust="spacingAndGlyphs">0.1</text>
</svg>
</body></html>
